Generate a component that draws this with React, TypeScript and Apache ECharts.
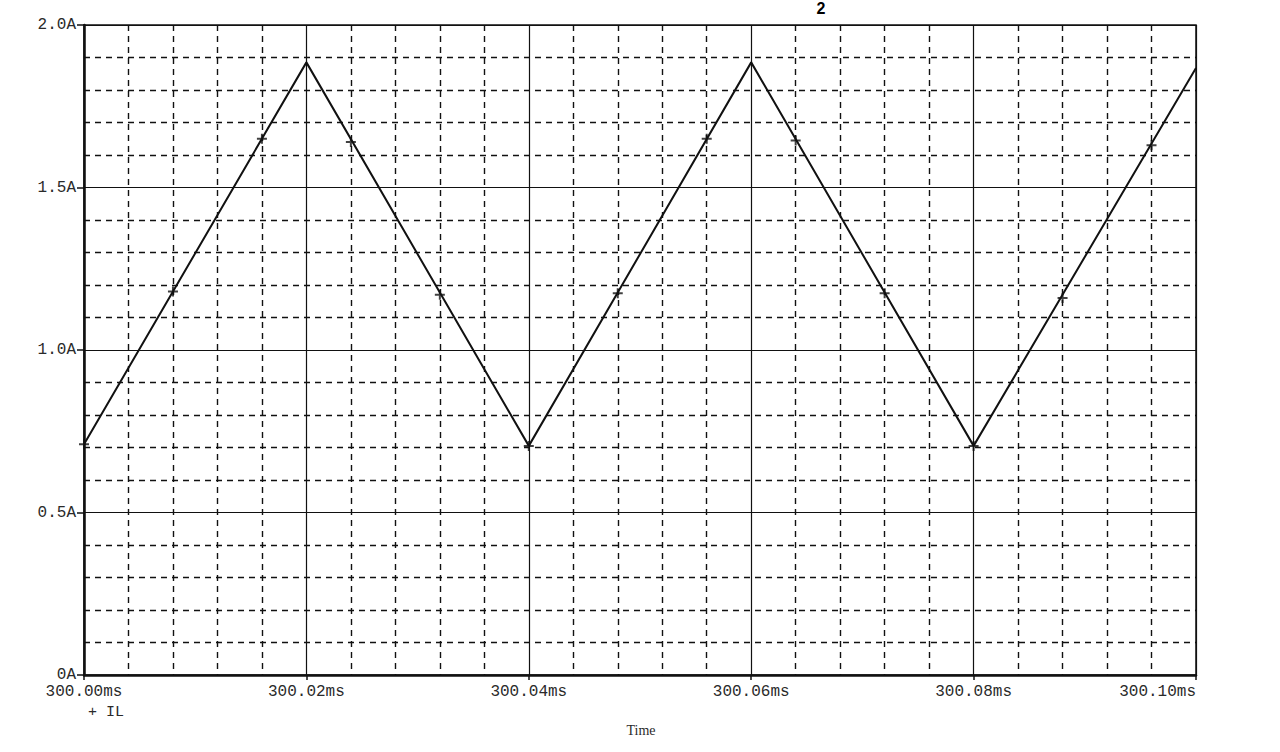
import React, { useEffect, useRef } from "react";
import * as echarts from "echarts";

// Waveform vertices (time in ms, current in A)
const waveTime = [300.0, 300.02, 300.04, 300.06, 300.08, 300.1];
const waveCurrent = [0.71, 1.885, 0.705, 1.885, 0.705, 1.868];

// "+" marker samples for IL
const markerTime = [300.0, 300.008, 300.016, 300.024, 300.032, 300.04, 300.048, 300.056, 300.064, 300.072, 300.08, 300.088, 300.096];
const markerCurrent = [0.71, 1.18, 1.65, 1.64, 1.17, 0.705, 1.175, 1.65, 1.645, 1.175, 0.705, 1.16, 1.63];

const xMin = 300.0;
const xMax = 300.1;
const xStep = 0.02;
const yMin = 0;
const yMax = 2.0;
const yStep = 0.5;

const seriesName = "IL";
const axisTitle = "Time";
const pageTitle = "2";

const INK = "#111";
const TXT = "#2a2a2a";
const MONO = "Liberation Mono, DejaVu Sans Mono, monospace";

export default function App() {
  const ref = useRef<HTMLDivElement>(null);
  useEffect(() => {
    if (!ref.current) return;
    const chart = echarts.init(ref.current, null, { renderer: "svg" });
    const dashed = { color: INK, width: 1.4, type: [6, 5] as any };
    chart.setOption({
      animation: false,
      backgroundColor: "#fff",
      grid: {
        left: 84,
        right: 84,
        top: 25,
        bottom: 77,
        show: true,
        borderColor: INK,
        borderWidth: 1.5,
        backgroundColor: "transparent",
      },
      xAxis: {
        type: "value",
        min: xMin,
        max: xMax,
        interval: xStep,
        axisLine: { show: true, lineStyle: { color: INK, width: 2.5 } },
        axisTick: { show: true, length: 5, lineStyle: { color: INK, width: 1.5 } },
        axisLabel: {
          color: TXT,
          fontFamily: MONO,
          fontSize: 16,
          margin: 9,
          alignMaxLabel: "right",
          formatter: (v: number) => v.toFixed(2) + "ms",
        },
        splitLine: { show: true, lineStyle: { color: INK, width: 1.2 } },
        minorTick: { show: false, splitNumber: 5 },
        minorSplitLine: { show: true, lineStyle: dashed },
      },
      yAxis: {
        type: "value",
        min: yMin,
        max: yMax,
        interval: yStep,
        axisLine: { show: true, lineStyle: { color: INK, width: 2.5 } },
        axisTick: { show: true, length: 7, lineStyle: { color: INK, width: 1.5 } },
        axisLabel: {
          color: TXT,
          fontFamily: MONO,
          fontSize: 16,
          margin: 8,
          formatter: (v: number) => (v === 0 ? "0A" : v.toFixed(1) + "A"),
        },
        splitLine: { show: true, lineStyle: { color: INK, width: 1.2 } },
        minorTick: { show: false, splitNumber: 5 },
        minorSplitLine: { show: true, lineStyle: dashed },
      },
      series: [
        {
          name: seriesName,
          type: "line",
          data: waveTime.map((t, i) => [t, waveCurrent[i]]),
          showSymbol: false,
          symbol: "none",
          lineStyle: { color: INK, width: 2 },
          z: 3,
        },
        {
          name: seriesName + " markers",
          type: "scatter",
          data: markerTime.map((t, i) => [t, markerCurrent[i]]),
          symbol: "path://M4,0H6V4H10V6H6V10H4V6H0V4H4Z",
          symbolSize: 10,
          itemStyle: { color: INK },
          z: 4,
        },
      ],
      graphic: [
        {
          type: "text",
          left: 88,
          top: 705,
          style: { text: "+ " + seriesName, fill: TXT, font: "15px " + MONO },
        },
        {
          type: "text",
          x: 641,
          y: 730,
          style: {
            text: axisTitle,
            fill: TXT,
            font: "14px Liberation Serif, serif",
            textAlign: "center",
            textVerticalAlign: "middle",
          },
        },
        {
          type: "text",
          x: 821,
          y: 0,
          style: {
            text: pageTitle,
            fill: "#000",
            font: "bold 16px Liberation Sans, Arial, sans-serif",
            textAlign: "center",
            textVerticalAlign: "top",
          },
        },
      ],
    });
    return () => chart.dispose();
  }, []);
  return (
    <div
      ref={ref}
      style={{ position: "absolute", left: 0, top: 0, width: 1280, height: 752 }}
    />
  );
}
